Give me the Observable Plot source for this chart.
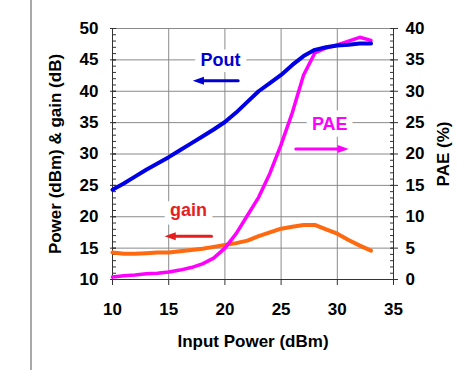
<!DOCTYPE html>
<html>
<head>
<meta charset="utf-8">
<script src="https://cdn.jsdelivr.net/npm/d3@7"></script>
<script src="https://cdn.jsdelivr.net/npm/@observablehq/plot@0.6"></script>
<style>
  html, body { margin: 0; padding: 0; background: #fff; }
  #chart { width: 474px; height: 370px; }
</style>
</head>
<body>
<div id="chart"></div>
<script>
// ---- data ----
const inputPower = [10, 11, 12, 13, 14, 15, 16, 17, 18, 19, 20, 21, 22, 23, 24, 25, 26, 27, 28, 29, 30, 31, 32, 33];
const poutDbm    = [24.3, 25.3, 26.4, 27.5, 28.5, 29.5, 30.6, 31.7, 32.8, 33.9, 35.1, 36.6, 38.3, 40.0, 41.3, 42.6, 44.2, 45.6, 46.6, 47.0, 47.3, 47.4, 47.6, 47.6];
const gainDb     = [14.3, 14.1, 14.1, 14.2, 14.3, 14.3, 14.5, 14.7, 14.9, 15.2, 15.5, 15.8, 16.2, 16.9, 17.5, 18.1, 18.4, 18.7, 18.7, 18.0, 17.3, 16.3, 15.4, 14.6];
const paePct     = [0.4, 0.6, 0.7, 0.9, 1.0, 1.2, 1.5, 1.9, 2.5, 3.4, 5.0, 7.3, 10.2, 13.1, 16.9, 21.5, 26.6, 32.6, 36.1, 36.9, 37.4, 38.0, 38.6, 38.1];

const xTicks     = [10, 15, 20, 25, 30, 35];
const xGrid      = [15, 20, 25, 30];
const leftTicks  = [10, 15, 20, 25, 30, 35, 40, 45, 50];
const rightTicks = [0, 5, 10, 15, 20, 25, 30, 35, 40];
const paeOffset  = 10; // right axis 0..40 shares the frame with left axis 10..50

const xTitle      = "Input Power (dBm)";
const yLeftTitle  = "Power (dBm) & gain (dB)";
const yRightTitle = "PAE (%)";

// annotation labels (left-axis units)
const labels = [
  {text: "Pout", x: 19.6,  y: 44.9, color: "#0000d0"},
  {text: "PAE",  x: 29.33, y: 34.8, color: "#ff00ff"},
  {text: "gain", x: 16.76, y: 21.1, color: "#e61e1e"}
];
const arrows = [
  {x1: 21.18, x2: 17.14, y: 41.66, color: "#0000d0", dir: "left"},
  {x1: 26.31, x2: 31.02, y: 30.8,  color: "#ff00ff", dir: "right"},
  {x1: 18.8,  x2: 14.63, y: 16.9,  color: "#e61e1e", dir: "left"}
];

const rows = inputPower.map((x, i) => ({x, pout: poutDbm[i], gain: gainDb[i], pae: paePct[i]}));

const headLeft = {draw(ctx, size) { const r = Math.sqrt(size / Math.PI); ctx.moveTo(0, 0); ctx.lineTo(2.8 * r, -r); ctx.lineTo(2.8 * r, r); ctx.closePath(); }};
const headRight = {draw(ctx, size) { const r = Math.sqrt(size / Math.PI); ctx.moveTo(0, 0); ctx.lineTo(-2.8 * r, -r); ctx.lineTo(-2.8 * r, r); ctx.closePath(); }};

const gridColor = "#8a8a8a";
const axisColor = "#333";
const minorLeft = d3.range(leftTicks[0], leftTicks[leftTicks.length - 1] + 1, 1);

const svg = Plot.plot({
  width: 474,
  height: 370,
  marginLeft: 112,
  marginRight: 81,
  marginTop: 28,
  marginBottom: 91,
  x: {domain: [10, 35]},
  y: {domain: [10, 50]},
  style: {fontFamily: "'Liberation Sans', Arial, sans-serif", fontSize: "17px", fontWeight: "bold", background: "#fff", color: "#000"},
  marks: [
    Plot.gridY(leftTicks, {stroke: gridColor, strokeOpacity: 1}),
    Plot.gridX(xGrid, {stroke: gridColor, strokeOpacity: 1}),
    Plot.ruleX([10, 35], {stroke: axisColor}),
    Plot.ruleY([10], {stroke: axisColor}),
    // left axis
    Plot.axisY({anchor: "left", ticks: minorLeft, tickSize: 4, dx: 4, tickFormat: () => "", label: null, stroke: axisColor}),
    Plot.axisY({anchor: "left", ticks: leftTicks, tickSize: 6, dx: 4, tickFormat: () => "", label: null, stroke: axisColor}),
    Plot.axisY({anchor: "left", ticks: leftTicks, tickSize: 0, tickPadding: 14, label: null, fontSize: 17, fontWeight: "bold"}),
    // right axis (PAE)
    Plot.axisY({anchor: "right", ticks: minorLeft, tickSize: 4, dx: -4, tickFormat: () => "", label: null, stroke: axisColor}),
    Plot.axisY({anchor: "right", ticks: leftTicks, tickSize: 7, dx: -3, tickFormat: () => "", label: null, stroke: axisColor}),
    Plot.axisY({anchor: "right", ticks: rightTicks.map(v => v + paeOffset), tickFormat: d => d - paeOffset, tickSize: 0, tickPadding: 12, label: null, fontSize: 17, fontWeight: "bold"}),
    // bottom axis
    Plot.axisX({anchor: "bottom", ticks: xTicks, tickSize: 6, tickFormat: () => "", label: null, stroke: axisColor}),
    Plot.axisX({anchor: "bottom", ticks: xTicks, tickSize: 0, tickPadding: 23, label: null, fontSize: 17, fontWeight: "bold"}),
    // titles
    Plot.text([xTitle], {frameAnchor: "bottom", dy: 62, textAnchor: "middle", fontSize: 17, fontWeight: "bold", lineAnchor: "middle", fill: "#000"}),
    Plot.text([yLeftTitle], {frameAnchor: "left", dx: -57, rotate: -90, textAnchor: "middle", fontSize: 17, fontWeight: "bold", lineAnchor: "middle", fill: "#000"}),
    Plot.text([yRightTitle], {frameAnchor: "right", dx: 50, rotate: -90, textAnchor: "middle", fontSize: 17, fontWeight: "bold", lineAnchor: "middle", fill: "#000"}),
    // annotation labels with white box over the grid
    Plot.text(labels, {x: "x", y: "y", text: "text", fill: "color", stroke: "white", strokeWidth: 13, strokeLinejoin: "round", fontSize: 18, fontWeight: "bold", lineAnchor: "middle"}),
    // arrows
    Plot.arrow(arrows, {x1: "x1", x2: "x2", y1: "y", y2: "y", stroke: "color", strokeWidth: 3, headLength: 0, insetEnd: 6}),
    Plot.dot(arrows.filter(a => a.dir === "left"), {x: "x2", y: "y", fill: "color", stroke: null, r: 4, symbol: headLeft}),
    Plot.dot(arrows.filter(a => a.dir === "right"), {x: "x2", y: "y", fill: "color", stroke: null, r: 4, symbol: headRight}),
    // series
    Plot.line(rows, {x: "x", y: "gain", stroke: "#ff6a10", strokeWidth: 4}),
    Plot.line(rows, {x: "x", y: d => d.pae + paeOffset, stroke: "#ff00ff", strokeWidth: 3.5}),
    Plot.line(rows, {x: "x", y: "pout", stroke: "#0000e6", strokeWidth: 4})
  ]
});

// outer page border line at the left of the figure
d3.select(svg).append("line")
  .attr("x1", 31).attr("x2", 31).attr("y1", 0).attr("y2", 370)
  .attr("stroke", "#8c8c8c").attr("stroke-width", 1.5);

document.getElementById("chart").appendChild(svg);
</script>
</body>
</html>
